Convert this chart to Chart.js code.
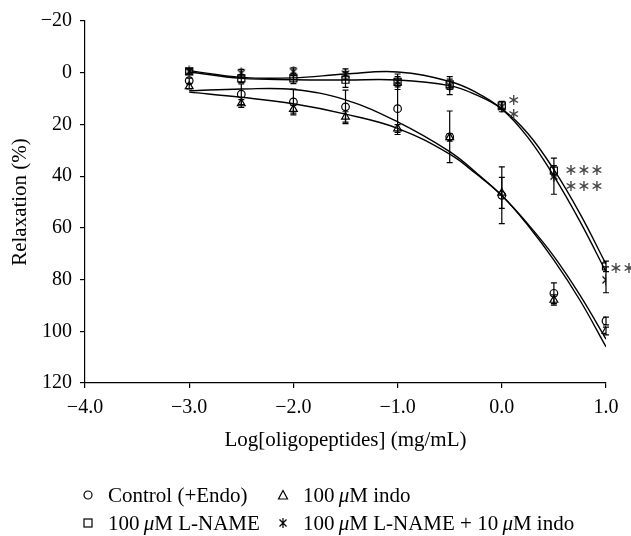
<!DOCTYPE html>
<html>
<head>
<meta charset="utf-8">
<script src="https://cdn.jsdelivr.net/npm/chart.js@4.4.0/dist/chart.umd.min.js"></script>
<style>
  body { margin: 0; background: #fff; }
  #wrap { position: relative; width: 631px; height: 536px; }
  .item {
    position: absolute; display: flex; align-items: center; height: 22px;
    font-family: 'Liberation Serif', serif; font-size: 21px; color: #000; white-space: nowrap;
  }
  .item svg { margin-right: 14px; }
  .item i { font-style: italic; }
</style>
</head>
<body>
<div id="wrap">
  <canvas id="chart" width="631" height="536"></canvas>
  <div class="item" style="left:82px;top:484px">
    <svg width="12" height="12"><circle cx="6" cy="6" r="4" fill="none" stroke="#000" stroke-width="1.2"/></svg>
    <span>Control (+Endo)</span>
  </div>
  <div class="item" style="left:277px;top:484px">
    <svg width="12" height="12"><polygon points="6,1.5 10.5,10 1.5,10" fill="none" stroke="#000" stroke-width="1.2"/></svg>
    <span>100&#8201;<i>μ</i>M indo</span>
  </div>
  <div class="item" style="left:82px;top:512px">
    <svg width="12" height="12"><rect x="2" y="2" width="8" height="8" fill="none" stroke="#000" stroke-width="1.2"/></svg>
    <span>100&#8201;<i>μ</i>M L-NAME</span>
  </div>
  <div class="item" style="left:277px;top:512px">
    <svg width="12" height="12"><path d="M2.5 2.5 L9.5 9.5 M9.5 2.5 L2.5 9.5 M6 1 L6 11" stroke="#000" stroke-width="1.2"/></svg>
    <span>100&#8201;<i>μ</i>M L-NAME + 10&#8201;<i>μ</i>M indo</span>
  </div>
</div>
<script>
// measured points (log dose vs relaxation %)
const logDose = [-3, -2.5, -2, -1.5, -1, -0.5, 0, 0.5, 1];
const controlMean = [3.1, 8.3, 11.3, 13.2, 13.9, 24.8, 47.4, 85.3, 96];
const controlSem = [1, 4, 5, 6.5, 10, 10, 11, 4, 1.5];
const indoMean = [5.3, 11.9, 14.1, 17.1, 21.6, 25, 46.5, 87.9, 99.9];
const indoSem = [1, 1.5, 1.5, 2, 1.5, 1.5, 6, 2, 1.5];
const lnameMean = [-0.5, 2.2, 2.2, 2.7, 3.5, 4.5, 12.7, 37.9, 74.9];
const lnameSem = [1, 1.5, 2, 3, 2, 2, 1.5, 2, 2];
const lnameIndoMean = [-0.5, 0.2, -0.4, 0.5, 3.5, 5, 13.1, 40, 80.1];
const lnameIndoSem = [1, 1.5, 1.5, 2, 3, 3.5, 2, 7, 5];

// fitted curves
const fitDose = [-3, -2.5, -2, -1.5, -1, -0.5, -0.25, 0, 0.25, 0.5, 0.75, 1];
const controlFit = [7, 6.3, 6.5, 10.5, 19, 30.5, 38.5, 47.5, 58.5, 71, 86, 103];
const indoFit = [7.5, 9.5, 12, 16, 21.5, 31.5, 39, 47.5, 59, 72.5, 88, 106];
const lnameFit = [-0.3, 2.2, 2.7, 2.8, 2.8, 5, 8.5, 14, 23.5, 37.5, 54.5, 74];
const lnameIndoFit = [-0.8, 1.8, 2.0, 0.5, -0.3, 3.4, 7.5, 14, 25, 40, 57.5, 77];

// significance marks
const sigDose = [0, 0, 0.5, 0.5, 1];
const sigLevel = [11, 16.3, 37.9, 44.1, 76];
const sigCount = [1, 1, 3, 3, 2];

const serif = "'Liberation Serif', serif";

function pts(xs, ys) {
    return xs.map((x, i) => ({ x: x, y: ys[i] }));
}

function makeStar() {
    const c = document.createElement('canvas');
    c.width = 12; c.height = 12;
    const g = c.getContext('2d');
    g.strokeStyle = '#000';
    g.lineWidth = 1.2;
    g.beginPath();
    g.moveTo(2.5, 2.5); g.lineTo(9.5, 9.5);
    g.moveTo(9.5, 2.5); g.lineTo(2.5, 9.5);
    g.moveTo(6, 0.5); g.lineTo(6, 11.5);
    g.stroke();
    return c;
}

function markers(ys, errs, style, radius) {
    return {
        data: pts(logDose, ys),
        errors: errs,
        showLine: false,
        pointStyle: style,
        pointRadius: radius,
        borderColor: '#000',
        backgroundColor: 'rgba(0,0,0,0)',
        pointBorderWidth: 1.2
    };
}

function curve(ys) {
    return {
        data: pts(fitDose, ys),
        showLine: true,
        pointRadius: 0,
        borderColor: '#000',
        borderWidth: 1.4,
        tension: 0.4,
        fill: false
    };
}

const errorBars = {
    id: 'errorBars',
    afterDatasetsDraw(chart) {
        const ctx = chart.ctx;
        const xs = chart.scales.x, ys = chart.scales.y;
        ctx.save();
        ctx.strokeStyle = '#000';
        ctx.lineWidth = 1.2;
        chart.data.datasets.forEach(ds => {
            if (!ds.errors) return;
            ds.data.forEach((p, i) => {
                const e = ds.errors[i];
                const px = xs.getPixelForValue(p.x);
                const y1 = ys.getPixelForValue(p.y - e);
                const y2 = ys.getPixelForValue(p.y + e);
                ctx.beginPath();
                ctx.moveTo(px, y1); ctx.lineTo(px, y2);
                ctx.moveTo(px - 3, y1); ctx.lineTo(px + 3, y1);
                ctx.moveTo(px - 3, y2); ctx.lineTo(px + 3, y2);
                ctx.stroke();
            });
        });
        ctx.restore();
    }
};

const sigMarks = {
    id: 'sigMarks',
    afterDraw(chart) {
        const ctx = chart.ctx;
        const xs = chart.scales.x, ys = chart.scales.y;
        ctx.save();
        ctx.fillStyle = '#444';
        ctx.font = "16px 'DejaVu Sans'";
        ctx.textAlign = 'center';
        ctx.textBaseline = 'middle';
        sigDose.forEach((d, i) => {
            const gap = d === 0.5 ? 17 : (d === 1 ? 10 : 12);
            const x0 = xs.getPixelForValue(d) + gap;
            const y0 = ys.getPixelForValue(sigLevel[i]);
            for (let k = 0; k < sigCount[i]; k++) {
                ctx.fillText('\u2217', x0 + k * 13, y0);
            }
        });
        ctx.restore();
    }
};

const tickFont = { family: serif, size: 20 };
const titleFont = { family: serif, size: 21 };

new Chart(document.getElementById('chart'), {
    type: 'scatter',
    data: {
        datasets: [
            curve(controlFit),
            curve(indoFit),
            curve(lnameFit),
            curve(lnameIndoFit),
            markers(controlMean, controlSem, 'circle', 3.8),
            markers(indoMean, indoSem, 'triangle', 4.5),
            markers(lnameMean, lnameSem, 'rect', 5),
            markers(lnameIndoMean, lnameIndoSem, makeStar(), 5)
        ]
    },
    options: {
        responsive: false,
        animation: false,
        layout: { padding: { left: 0, right: 25, top: 21, bottom: 83 } },
        plugins: {
            legend: { display: false },
            tooltip: { enabled: false }
        },
        scales: {
            x: {
                type: 'linear',
                min: -4,
                max: 1,
                ticks: {
                    stepSize: 1,
                    font: tickFont,
                    color: '#000',
                    padding: 8,
                    maxRotation: 0,
                    callback: v => v.toFixed(1).replace('-', '\u2212')
                },
                grid: { drawOnChartArea: false, tickLength: 5, color: '#000', lineWidth: 1.2 },
                border: { color: '#000', width: 1.2 },
                title: {
                    display: true,
                    text: 'Log[oligopeptides] (mg/mL)',
                    font: titleFont,
                    color: '#000',
                    padding: { top: 0, bottom: 0 }
                },
                afterFit(scale) { scale.height = 70; }
            },
            y: {
                reverse: true,
                min: -20,
                max: 120,
                ticks: {
                    stepSize: 20,
                    font: tickFont,
                    color: '#000',
                    padding: 8,
                    callback: v => String(v).replace('-', '\u2212')
                },
                grid: { drawOnChartArea: false, tickLength: 5, color: '#000', lineWidth: 1.2 },
                border: { color: '#000', width: 1.2 },
                title: {
                    display: true,
                    text: 'Relaxation (%)',
                    font: titleFont,
                    color: '#000',
                    padding: { top: 8, bottom: 0 }
                },
                afterFit(scale) { scale.width = 85; }
            }
        }
    },
    plugins: [errorBars, sigMarks]
});
</script>
</body>
</html>
